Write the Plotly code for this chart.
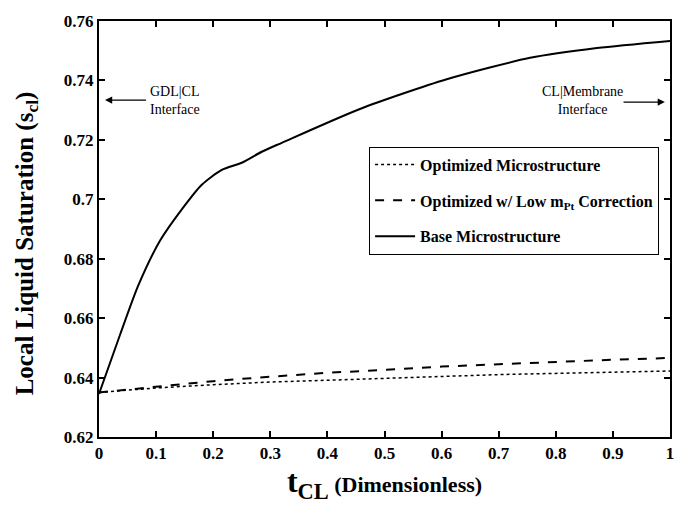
import plotly.graph_objects as go

# Base microstructure
base_x = [0.0, 0.037, 0.069, 0.107, 0.145, 0.18, 0.215, 0.25, 0.285, 0.32, 0.457, 0.609, 0.755, 0.872, 1.0]
base_y = [0.6345, 0.6545, 0.6711, 0.6861, 0.6966, 0.7049, 0.7099, 0.7123, 0.716, 0.7190, 0.7304, 0.7404, 0.7476, 0.7509, 0.7533]

# Optimized w/ low mPt correction
dash_x = [0.0, 0.1, 0.2, 0.3, 0.4, 0.5, 0.6, 0.7, 0.8, 0.9, 1.0]
dash_y = [0.635, 0.637, 0.6388, 0.6403, 0.6416, 0.6426, 0.6437, 0.6445, 0.6453, 0.646, 0.6466]

# Optimized microstructure
dot_x = [0.0, 0.1, 0.2, 0.3, 0.4, 0.5, 0.6, 0.7, 0.8, 0.9, 1.0]
dot_y = [0.635, 0.6365, 0.6376, 0.6385, 0.6391, 0.6397, 0.6405, 0.641, 0.6414, 0.6419, 0.6422]

x_ticks = [0, 0.1, 0.2, 0.3, 0.4, 0.5, 0.6, 0.7, 0.8, 0.9, 1]
x_labels = ["0", "0.1", "0.2", "0.3", "0.4", "0.5", "0.6", "0.7", "0.8", "0.9", "1"]
y_ticks = [0.62, 0.64, 0.66, 0.68, 0.70, 0.72, 0.74, 0.76]
y_labels = ["0.62", "0.64", "0.66", "0.68", "0.7", "0.72", "0.74", "0.76"]

FONT = "Times New Roman"

fig = go.Figure()
fig.add_trace(go.Scatter(x=dot_x, y=dot_y, mode="lines", name="<b>Optimized Microstructure</b>",
                         legendgroup="a",
                         line=dict(color="black", width=1.5, dash="dot")))
fig.add_trace(go.Scatter(x=dash_x, y=dash_y, mode="lines",
                         name="<b>Optimized w/ Low m<sub>Pt</sub> Correction</b>",
                         legendgroup="b",
                         line=dict(color="black", width=2, dash="dash")))
fig.add_trace(go.Scatter(x=base_x, y=base_y, mode="lines", name="<b>Base Microstructure</b>",
                         legendgroup="c",
                         line=dict(color="black", width=2, shape="spline", smoothing=0.7)))

axis_common = dict(showline=True, linecolor="black", linewidth=2, mirror="allticks",
                   ticks="inside", ticklen=6, tickwidth=1.5, tickcolor="black",
                   showgrid=False, zeroline=False,
                   tickfont=dict(family=FONT, size=17, color="black"))

fig.update_xaxes(range=[0, 1], tickvals=x_ticks, ticktext=["<b>%s</b>" % t for t in x_labels],
                 title=dict(text="<b><span style='font-size:32px'>t<sub>CL</sub></span> (Dimensionless)</b>",
                            font=dict(family=FONT, size=22, color="black"), standoff=4),
                 **axis_common)
fig.update_yaxes(range=[0.62, 0.76], tickvals=y_ticks, ticktext=["<b>%s</b>" % t for t in y_labels],
                 **axis_common)

fig.update_layout(
    width=688, height=509,
    margin=dict(l=99, r=18, t=16, b=72),
    paper_bgcolor="white", plot_bgcolor="white",
    font=dict(family=FONT, color="black"),
    legend=dict(x=0.473, y=0.698, xanchor="left", yanchor="top",
                bordercolor="black", borderwidth=1, bgcolor="white",
                font=dict(family=FONT, size=16, color="black"),
                tracegroupgap=12, itemwidth=40),
    showlegend=True,
)

# y-axis title as rotated annotation (positioned like the reference)
fig.add_annotation(xref="paper", yref="paper", x=0, y=0.4656, xshift=-73,
                   xanchor="center", yanchor="middle", textangle=-90, showarrow=False,
                   text="<b>Local Liquid Saturation (s<sub>cl</sub>)</b>",
                   font=dict(family=FONT, size=25, color="black"))

ann_font = dict(family=FONT, size=14, color="black")
fig.add_annotation(x=0.133, y=0.7334, text="GDL|CL<br>Interface", showarrow=False,
                   font=ann_font, xref="x", yref="y", align="left")
fig.add_annotation(x=0.0105, y=0.7334, ax=0.085, ay=0.7334, axref="x", ayref="y",
                   text="", showarrow=True, arrowhead=2, arrowsize=1.2, arrowwidth=1.2,
                   arrowcolor="black", xref="x", yref="y")
fig.add_annotation(x=0.846, y=0.7331, text="CL|Membrane<br>Interface", showarrow=False,
                   font=ann_font, xref="x", yref="y", align="center")
fig.add_annotation(x=0.991, y=0.7327, ax=0.916, ay=0.7327, axref="x", ayref="y",
                   text="", showarrow=True, arrowhead=2, arrowsize=1.2, arrowwidth=1.2,
                   arrowcolor="black", xref="x", yref="y")

fig.write_html("out.html")
